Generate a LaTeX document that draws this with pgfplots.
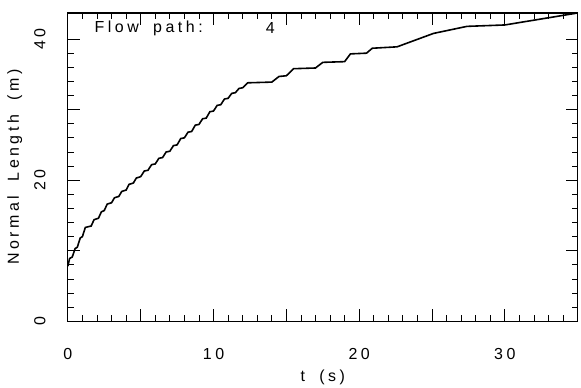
\documentclass[border=0pt]{standalone}
\usepackage{fontspec}
\setmainfont{Liberation Sans}[LetterSpace=22, WordSpace=1.8]
\usepackage{pgfplots}
\pgfplotsset{compat=1.18}
\begin{document}
\begin{tikzpicture}
\begin{axis}[
  scale only axis,
  width=511bp, height=309bp,
  xmin=0, xmax=35, ymin=0, ymax=43.7,
  axis line style={line width=1.1bp},
  tick align=inside,
  xtick={0,5,...,35}, xticklabels={0,,10,,20,,30,},
  ytick={0,10,...,40}, yticklabels={0,,20,,40},
  minor x tick num=4, minor y tick num=4,
  major tick length=12bp, minor tick length=6bp,
  every tick/.style={black, line width=0.8bp},
  /pgf/number format/assume math mode=true,
  tick label style={font=\fontsize{16bp}{19bp}\selectfont},
  label style={font=\fontsize{16bp}{19bp}\selectfont},
  xticklabel style={anchor=center, yshift=-33bp},
  yticklabel style={xshift=-28bp, rotate=90, anchor=center},
  xlabel={t (s)},
  ylabel={Normal Length (m)},
  xlabel style={at={(axis description cs:0.5,-0.181)}, anchor=center},
  ylabel style={at={(axis description cs:-0.104,0.5)}, anchor=center, rotate=0},
]
\addplot[black, line width=1.6bp] coordinates {
(0,7.8) (0.12,8.9) (0.3,9.1) (0.5,10.3) (0.65,10.5) (0.85,11.8) (1.0,12.0)
(1.2,13.3) (1.6,13.5) (1.8,14.4) (2.1,14.6) (2.3,15.5) (2.5,15.7) (2.7,16.6)
(3.0,16.8) (3.2,17.5) (3.5,17.7) (3.7,18.4) (4.0,18.6) (4.2,19.4) (4.5,19.6)
(4.7,20.3) (5.0,20.5)
(5.25,21.3) (5.5,21.4)
(5.75,22.2) (6.0,22.3)
(6.25,23.1) (6.5,23.2)
(6.75,24.0) (7.0,24.1)
(7.25,24.9) (7.5,25.0)
(7.75,25.9) (8.0,26.0)
(8.25,26.8) (8.5,26.9)
(8.75,27.8) (9.0,27.9)
(9.25,28.7) (9.5,28.8)
(9.75,29.7) (10.0,29.8)
(10.25,30.6) (10.5,30.7)
(10.75,31.5) (11.0,31.6)
(11.25,32.3) (11.5,32.4)
(11.75,33.0) (12.0,33.1)
(12.35,33.8) (14.0,33.9) (14.5,34.7) (15.0,34.8) (15.5,35.8) (17.0,35.9)
(17.5,36.7) (19.0,36.8) (19.4,37.9) (20.5,38.0) (20.9,38.7) (22.6,38.9)
(25.1,40.8) (27.4,41.8) (30.0,42.0) (35,43.7)
};
\node[anchor=west, font=\fontsize{16bp}{19bp}\selectfont] at (axis cs:1.6,41.5) {Flow path:};
\node[font=\fontsize{16bp}{19bp}\selectfont] at (axis cs:13.9,41.5) {4};
\end{axis}
\path ([xshift=-68bp,yshift=-65bp]current axis.south west) rectangle ([xshift=2bp,yshift=13bp]current axis.north east);
\end{tikzpicture}
\end{document}
